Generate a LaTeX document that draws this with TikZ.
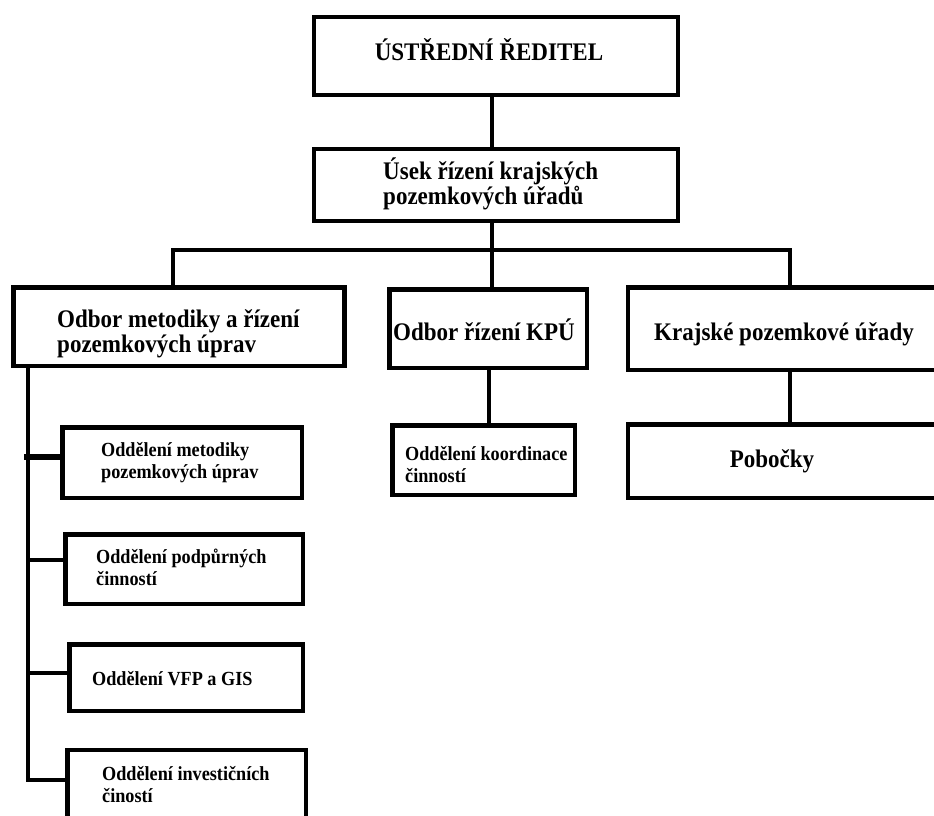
\documentclass[tikz,border=0pt]{standalone}
\usepackage{fontspec}
\setmainfont{Liberation Serif}
\newfontfamily\narrowserif[FakeStretch=0.91]{Liberation Serif}
\begin{document}
\begin{tikzpicture}[x=1pt,y=-1pt,
  box/.style={draw=black,line width=4.5pt,fill=white,inner sep=0pt,outer sep=0pt},
  conn/.style={draw=black,line width=4.5pt},
  big/.style={inner sep=0pt,align=left,font=\narrowserif\fontsize{25.3}{25}\selectfont\bfseries},
  small/.style={inner sep=0pt,align=left,font=\narrowserif\fontsize{20}{21.5}\selectfont\bfseries}]
\useasboundingbox (0,0) rectangle (934,815);
\fill[white] (0,0) rectangle (934,815);
% boxes
\node[box,minimum width=364pt,minimum height=78pt] (b1) at (496,56) {};
\node[box,minimum width=364pt,minimum height=72pt] (b2) at (496,185) {};
\node[box,minimum width=331pt,minimum height=78.5pt] (bA) at (179,326.5) {};
\node[box,minimum width=197.5pt,minimum height=78.5pt] (bB) at (488,328.5) {};
\node[box,minimum width=317pt,minimum height=82.5pt] (bC) at (786.5,328.5) {};
\node[box,minimum width=182.5pt,minimum height=69.5pt] (cB) at (483.5,460) {};
\node[box,minimum width=317pt,minimum height=73.5pt] (cC) at (786.5,461) {};
\node[box,minimum width=239.5pt,minimum height=70.5pt] (s1) at (182,462.5) {};
\node[box,minimum width=237.5pt,minimum height=69.5pt] (s2) at (184,569) {};
\node[box,minimum width=233.5pt,minimum height=66.5pt] (s3) at (186,677.5) {};
\node[box,minimum width=238.5pt,minimum height=100pt] (s4) at (186.5,800) {};
% coordinates
\coordinate (hub) at (492,250);
\coordinate (hl) at (173,250);
\coordinate (hr) at (790,250);
\coordinate (vB) at (489,0);
\coordinate (vx) at (28,0);
\coordinate (k1) at (24,457);
\coordinate (k2) at (28,560);
\coordinate (k3) at (28,673);
\coordinate (k4) at (28,780);
% connectors
\draw[conn] (b1.south -| hub) -- (b2.north -| hub);
\draw[conn] (b2.south -| hub) -- (bB.north -| hub);
\draw[conn] (bA.north -| hl) -- (hl) -- (hr) -- (bC.north -| hr);
\draw[conn] (bB.south -| vB) -- (cB.north -| vB);
\draw[conn] (bC.south -| hr) -- (cC.north -| hr);
\draw[conn] (bA.south -| vx) -- (k4) -- (s4.west |- k4);
\draw[conn,line width=6pt] (k1) -- (s1.west |- k1);
\draw[conn] (k2) -- (s2.west |- k2);
\draw[conn] (k3) -- (s3.west |- k3);
% texts (multi-line nodes: base = last line)
\node[big,anchor=base] (t1) at (489,60) {ÚSTŘEDNÍ ŘEDITEL};
\node[big,anchor=base west] (t2) at (383,204) {Úsek řízení krajských\\pozemkových úřadů};
\node[big,anchor=base west] (tA) at (57,352) {Odbor metodiky a řízení\\pozemkových úprav};
\node[big,anchor=base west] (tB) at (393,340) {Odbor řízení KPÚ};
\node[big,anchor=base west] (tC) at (654,340) {Krajské pozemkové úřady};
\node[small,anchor=base west] (tcB) at (405,482) {Oddělení koordinace\\činností};
\node[big,anchor=base] (tcC) at (772,467) {Pobočky};
\node[small,anchor=base west] (ts1) at (101,478) {Oddělení metodiky\\pozemkových úprav};
\node[small,anchor=base west] (ts2) at (96,585) {Oddělení podpůrných\\činností};
\node[small,anchor=base west] (ts3) at (92,685) {Oddělení VFP a GIS};
\node[small,anchor=base west] (ts4) at (102,802) {Oddělení investičních\\čiností};
\end{tikzpicture}
\end{document}
